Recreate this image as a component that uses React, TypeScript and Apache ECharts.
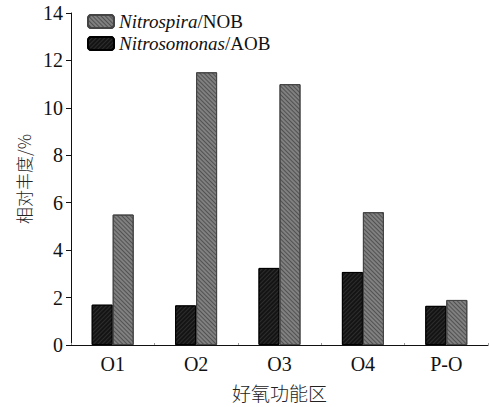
import React, { useEffect, useRef } from "react";
import * as echarts from "echarts";

const categories = ["O1", "O2", "O3", "O4", "P-O"];
const aobValues = [1.7, 1.67, 3.25, 3.08, 1.65];
const nobValues = [5.5, 11.5, 11.0, 5.6, 1.9];
const yTicks = { min: 0, max: 14, interval: 2 };

export default function App() {
  const ref = useRef<HTMLDivElement>(null);
  useEffect(() => {
    const chart = echarts.init(ref.current!, null, { renderer: "svg" });
    const serif = "'Liberation Serif', 'Times New Roman', serif";
    const cjk = "'Noto Sans CJK SC', sans-serif";
    chart.setOption({
      animation: false,
      backgroundColor: "#ffffff",
      grid: { left: 71, top: 13, right: 1, bottom: 59 },
      legend: {
        left: 82,
        top: 7,
        orient: "vertical",
        itemWidth: 26,
        itemHeight: 13,
        itemGap: 3,
        data: ["Nitrospira/NOB", "Nitrosomonas/AOB"],
        formatter: (name: string) => {
          const [a, b] = name.split("/");
          return `{i|${a}}{n|/${b}}`;
        },
        textStyle: {
          fontFamily: serif,
          fontSize: 19,
          color: "#111",
          rich: {
            i: { fontFamily: serif, fontSize: 19, fontStyle: "italic", color: "#111" },
            n: { fontFamily: serif, fontSize: 19, color: "#111" },
          },
        },
      },
      xAxis: {
        type: "category",
        data: categories,
        name: "好氧功能区",
        nameLocation: "middle",
        nameGap: 38,
        nameTextStyle: { fontFamily: cjk, fontSize: 19, color: "#222", fontWeight: 300 },
        axisLine: { lineStyle: { color: "#111", width: 1 } },
        axisTick: { show: true, inside: true, length: 2, lineStyle: { color: "#999" } },
        axisLabel: { fontFamily: serif, fontSize: 20, color: "#111", margin: 9 },
      },
      yAxis: {
        type: "value",
        min: yTicks.min,
        max: yTicks.max,
        interval: yTicks.interval,
        name: "相对丰度/%",
        nameLocation: "middle",
        nameGap: 38,
        nameTextStyle: { fontFamily: cjk, fontSize: 17, color: "#222", fontWeight: 300 },
        axisLine: { show: true, lineStyle: { color: "#111", width: 1 } },
        axisTick: { show: true, inside: false, length: 5, lineStyle: { color: "#111" } },
        axisLabel: { fontFamily: serif, fontSize: 20, color: "#111", margin: 8 },
        splitLine: { show: false },
      },
      series: [
        {
          name: "Nitrosomonas/AOB",
          type: "bar",
          data: aobValues,
          barWidth: 21,
          barGap: "0%",
          itemStyle: {
            color: "#141414",
            borderColor: "#000",
            borderWidth: 1,
            decal: {
              symbol: "rect",
              symbolSize: 1,
              dashArrayX: [1, 0],
              dashArrayY: [1, 2],
              rotation: -Math.PI / 4,
              color: "rgba(70,70,70,0.5)",
            },
          },
        },
        {
          name: "Nitrospira/NOB",
          type: "bar",
          data: nobValues,
          barWidth: 21,
          barGap: "0%",
          itemStyle: {
            color: "#808080",
            borderColor: "#444",
            borderWidth: 1,
            decal: {
              symbol: "rect",
              symbolSize: 1,
              dashArrayX: [1, 0],
              dashArrayY: [1, 2],
              rotation: Math.PI / 4,
              color: "rgba(50,50,50,0.6)",
            },
          },
        },
      ],
    });
    return () => chart.dispose();
  }, []);
  return <div ref={ref} style={{ width: 489, height: 407, position: "absolute", left: 0, top: 0 }} />;
}
